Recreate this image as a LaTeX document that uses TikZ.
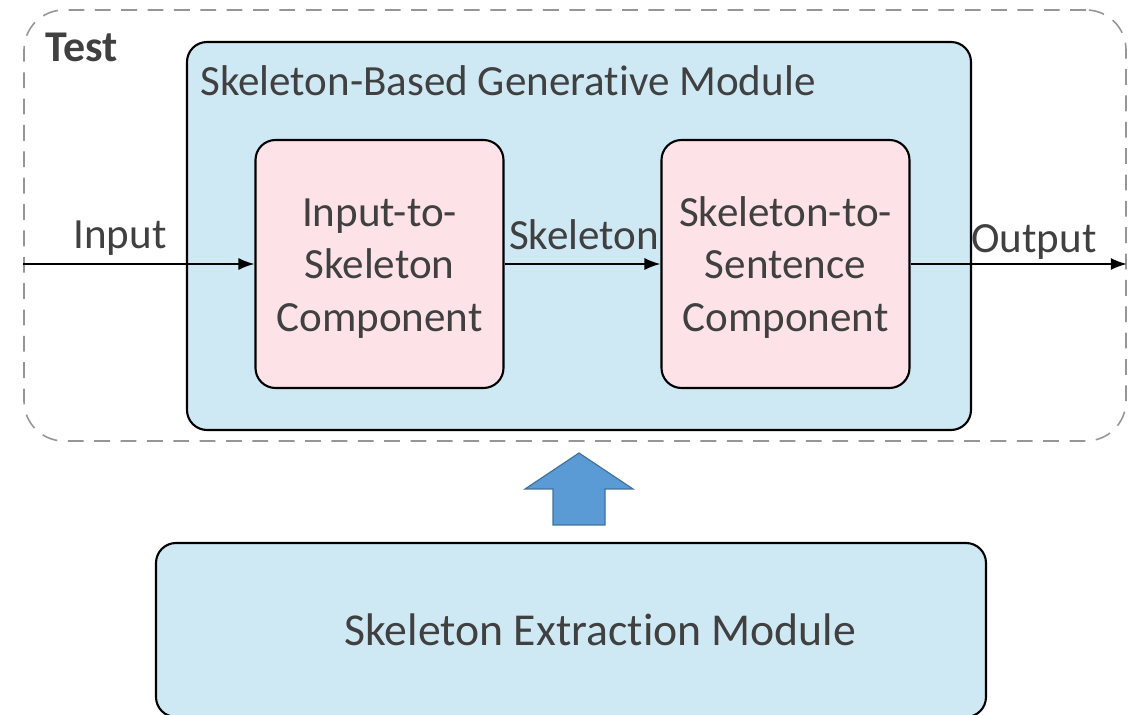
\documentclass[tikz,border=0pt]{standalone}
\usepackage{fontspec}
\setmainfont{Carlito}[Ligatures={NoCommon}]
\usepackage{xcolor}
\usetikzlibrary{arrows.meta,positioning,calc}
\definecolor{modblue}{RGB}{207,233,244}
\definecolor{compink}{RGB}{253,226,232}
\definecolor{txtgray}{RGB}{64,64,64}
\definecolor{dashgray}{RGB}{150,150,150}
\definecolor{upfill}{RGB}{91,155,213}
\definecolor{upline}{RGB}{65,113,156}

\begin{document}
\begin{tikzpicture}[
  font=\fontsize{24.5}{30}\selectfont, text=txtgray,
  outer/.style={draw=dashgray, dashed, dash pattern=on 9pt off 6pt, line width=0.9pt,
                rounded corners=8mm, minimum width=22.04cm, minimum height=8.62cm},
  module/.style={draw, line width=1.2pt, rounded corners=4mm, fill=modblue,
                 minimum width=15.68cm, minimum height=7.76cm},
  comp/.style={draw, line width=1.2pt, rounded corners=4mm, fill=compink,
               minimum width=4.96cm, minimum height=4.96cm, align=center},
  lbl/.style={inner sep=0pt},
  ar/.style={-{Latex[length=3.2mm, width=2.4mm]}, line width=0.9pt}
]
  \useasboundingbox (0,0) rectangle (22.74,-14.3);
  % test frame
  \node[outer] (test) at (11.5,-4.51) {};
  \node[lbl, font=\fontsize{25}{30}\selectfont\bfseries] (testlbl) at (1.64,-0.94) {Test};
  % generative module
  \node[module] (gen) at (11.58,-4.72) {};
  \node[lbl, anchor=west] (genlbl) at (4.0,-1.62) {Skeleton-Based Generative Module};
  \node[comp] (i2s) at (7.59,-5.28) {\strut Input-to-\\Skeleton\\Component};
  \node[comp] (s2s) at (15.71,-5.28) {\strut Skeleton-to-\\Sentence\\Component};
  % flow
  \coordinate (in) at (test.west |- i2s.west);
  \coordinate (out) at (test.east |- s2s.east);
  \draw[ar] (in) -- (i2s.west);
  \draw[ar] (i2s.east) -- (s2s.west);
  \draw[ar] (s2s.east) -- (out);
  \node[lbl] (inlbl) at (2.4,-4.76) {Input};
  \node[lbl] (sklbl) at (11.68,-4.7) {Skeleton};
  \node[lbl] (outlbl) at (20.68,-4.84) {Output};
  % extraction module
  \node[module, minimum width=16.6cm, minimum height=3.48cm] (ext) at (11.42,-12.6) {};
  \node[lbl, font=\fontsize{26}{30}\selectfont] (extlbl) at (12.01,-12.6) {Skeleton Extraction Module};
  % big up arrow
  \draw[upline, fill=upfill, line width=0.7pt]
    (11.58,-9.06) -- (12.66,-9.78) -- (12.1,-9.78) -- (12.1,-10.5)
    -- (11.06,-10.5) -- (11.06,-9.78) -- (10.5,-9.78) -- cycle;
\end{tikzpicture}
\end{document}
